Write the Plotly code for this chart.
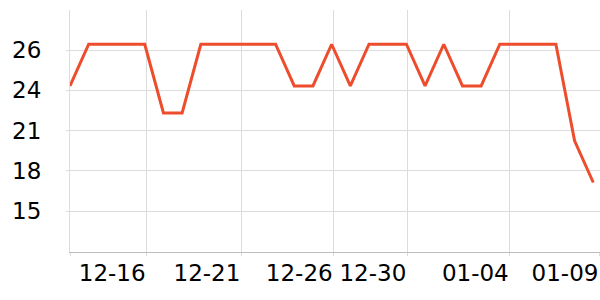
import plotly.graph_objects as go
import pandas as pd

# Data
dates = pd.date_range("2023-12-12", "2024-01-09", freq="D")
values = [23.95, 26.8, 26.8, 26.8, 26.8, 22.1, 22.1, 26.8, 26.8, 26.8,
          26.8, 26.8, 23.95, 23.95, 26.8, 23.95, 26.8, 26.8, 26.8, 23.95,
          26.8, 23.95, 23.95, 26.8, 26.8, 26.8, 26.8, 20.2, 17.35]

x_tick_vals = ["2023-12-12 00:00", "2023-12-16 02:24", "2023-12-21 04:05",
               "2023-12-26 02:38", "2023-12-30 01:12", "2024-01-04 12:43",
               "2024-01-09 07:55"]
x_tick_text = ["", "12-16", "12-21", "12-26", "12-30", "01-04", "01-09"]

y_tick_vals = [15.4, 18.15, 20.9, 23.65, 26.4]
y_tick_text = ["15", "18", "21", "24", "26"]

x_range = ["2023-12-12 00:00", "2024-01-09 08:38"]
y_range = [12.6, 29.14]

grid = "#dcdcdc"

fig = go.Figure(go.Scatter(
    x=dates, y=values, mode="lines",
    line=dict(color="#EE4D2D", width=3),
    hoverinfo="skip",
))

fig.update_layout(
    width=600, height=300,
    margin=dict(l=70, r=0, t=10, b=48),
    paper_bgcolor="white", plot_bgcolor="white",
    showlegend=False,
    font=dict(family="DejaVu Sans", size=23, color="black"),
)

fig.update_xaxes(
    type="date", range=x_range,
    tickmode="array", tickvals=x_tick_vals, ticktext=x_tick_text,
    ticklabelposition="outside left", tickangle=0,
    ticklabeloverflow="allow",
    showgrid=True, gridcolor=grid, gridwidth=1,
    showline=True, linecolor="#bdbdbd", linewidth=1,
    ticks="outside", ticklen=3, tickcolor=grid,
    zeroline=False,
)

fig.update_yaxes(
    range=y_range,
    tickmode="array", tickvals=y_tick_vals, ticktext=y_tick_text,
    showgrid=True, gridcolor=grid, gridwidth=1,
    showline=True, linecolor=grid, linewidth=1,
    ticks="outside", ticklen=3, tickcolor=grid,
    ticklabelstandoff=20,
    zeroline=False,
)

fig.write_html("out.html")
